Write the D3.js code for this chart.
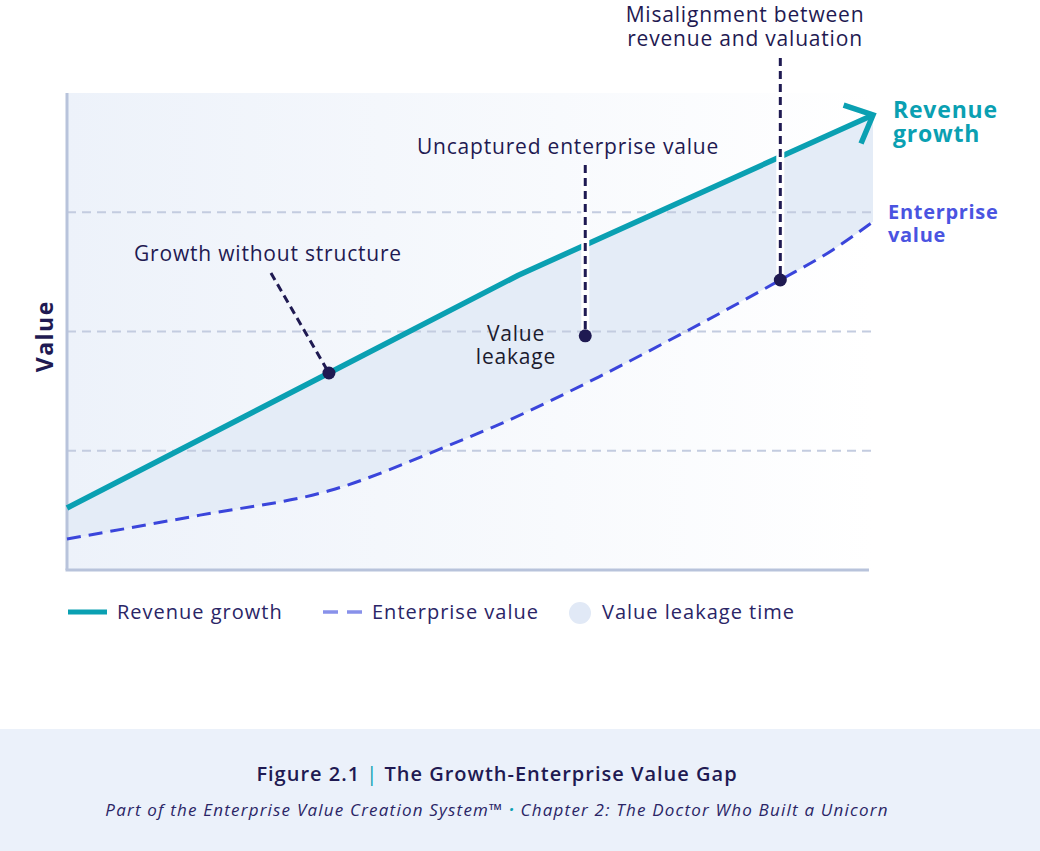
<!DOCTYPE html>
<html>
<head>
<meta charset="utf-8">
<script src="https://cdn.jsdelivr.net/npm/d3@7"></script>
<style>
  body { margin: 0; background: #fff; }
  svg { display: block; font-family: "Open Sans", "Noto Sans", sans-serif; }
</style>
</head>
<body>
<svg width="1040" height="851"></svg>
<script>
// data (time on x 0..10, value on y 0..100)
const revTime = [0, 3.25, 5.6, 10]
const revValue = [13, 41.3, 61.8, 95.4]

const evTime = [0, 1.65, 3.25, 4.75, 5.4, 6.6, 7.6, 8.85, 9.5, 10]
const evValue = [6.5, 11.5, 16.6, 26.2, 30.8, 40.5, 49.3, 60.8, 67.1, 73]

const gridValues = [25, 50, 75]

const legendLabels = ["Revenue growth", "Enterprise value", "Value leakage time"]

// annotation anchors: [time, value]
const growthDot = [3.25, 41.3]
const leakDot = [6.43, 49.1]
const misalignDot = [8.85, 60.8]

const svg = d3.select("svg")
const width = +svg.attr("width")
const height = +svg.attr("height")

const teal = "#0aa0b2"
const evBlue = "#3a45db"
const navy = "#1f1a52"

const x = d3.scaleLinear().domain([0, 10]).range([67, 873])
const y = d3.scaleLinear().domain([0, 100]).range([570, 93])

const revenue = revTime.map((t, i) => ({ t, v: revValue[i] }))
const ev = evTime.map((t, i) => ({ t, v: evValue[i] }))

const defs = svg.append("defs")

const bgGrad = defs.append("linearGradient").attr("id", "bgGrad")
bgGrad.append("stop").attr("offset", "0%").attr("stop-color", "#edf2fa")
bgGrad.append("stop").attr("offset", "100%").attr("stop-color", "#ffffff")

// plot background
svg.append("rect")
  .attr("x", x(0)).attr("y", y(100))
  .attr("width", x(10) - x(0)).attr("height", y(0) - y(100))
  .attr("fill", "url(#bgGrad)")

// clip to the region above the enterprise value curve
defs.append("clipPath").attr("id", "aboveEv")
  .append("path")
  .attr("d", d3.area()
    .x(d => x(d.t)).y0(y(100)).y1(d => y(d.v))
    .curve(d3.curveMonotoneX)(ev))

// value leakage fill: below revenue, above EV
svg.append("path")
  .attr("d", d3.area()
    .x(d => x(d.t)).y0(y(0)).y1(d => y(d.v))(revenue))
  .attr("clip-path", "url(#aboveEv)")
  .attr("fill", "#e4ecf7")

// gridlines
svg.selectAll("line.grid")
  .data(gridValues)
  .join("line")
  .attr("class", "grid")
  .attr("x1", x(0)).attr("x2", x(10))
  .attr("y1", d => y(d)).attr("y2", d => y(d))
  .attr("stroke", "#c3cce0")
  .attr("stroke-width", 2)
  .attr("stroke-dasharray", "9 6")

// axes
svg.append("line")
  .attr("x1", x(0)).attr("x2", x(0))
  .attr("y1", y(100)).attr("y2", y(0))
  .attr("stroke", "#b8c3db").attr("stroke-width", 3)
svg.append("line")
  .attr("x1", x(0) - 1.5).attr("x2", x(9.95))
  .attr("y1", y(0)).attr("y2", y(0))
  .attr("stroke", "#b8c3db").attr("stroke-width", 3)

svg.append("text")
  .text("Value")
  .attr("transform", `translate(53,${y(49)}) rotate(-90)`)
  .attr("text-anchor", "middle")
  .attr("fill", navy)
  .attr("font-size", 23)
  .attr("font-weight", 700)
  .attr("letter-spacing", 1.5)

// enterprise value line
svg.append("path")
  .attr("d", d3.line().x(d => x(d.t)).y(d => y(d.v)).curve(d3.curveMonotoneX)(ev))
  .attr("fill", "none")
  .attr("stroke", evBlue)
  .attr("stroke-width", 3)
  .attr("stroke-dasharray", "14 8")

// revenue line
svg.append("path")
  .attr("d", d3.line().x(d => x(d.t)).y(d => y(d.v))(revenue))
  .attr("fill", "none")
  .attr("stroke", teal)
  .attr("stroke-width", 5.5)
  .attr("stroke-linejoin", "round")

// arrow head at the end of revenue
const last = revenue[revenue.length - 1]
const prev = revenue[revenue.length - 2]
const tipX = x(last.t), tipY = y(last.v)
const ang = Math.atan2(tipY - y(prev.v), tipX - x(prev.t))
const armLen = 31
const spread = 0.75
svg.append("path")
  .attr("d", `M ${tipX - armLen * Math.cos(ang - spread)} ${tipY - armLen * Math.sin(ang - spread)}
              L ${tipX} ${tipY}
              L ${tipX - armLen * Math.cos(ang + spread)} ${tipY - armLen * Math.sin(ang + spread)}`)
  .attr("fill", "none")
  .attr("stroke", teal)
  .attr("stroke-width", 5.5)
  .attr("stroke-linecap", "butt")
  .attr("stroke-linejoin", "miter")

// annotations
function leader(x1, y1, x2, y2, halo) {
  if (halo) {
    svg.append("line")
      .attr("x1", x1).attr("y1", y1).attr("x2", x2).attr("y2", y2)
      .attr("stroke", "#fff").attr("stroke-width", 8)
  }
  svg.append("line")
    .attr("x1", x1).attr("y1", y1).attr("x2", x2).attr("y2", y2)
    .attr("stroke", navy).attr("stroke-width", 3)
    .attr("stroke-dasharray", "8 5")
}

function dot(cx, cy) {
  svg.append("circle")
    .attr("cx", cx).attr("cy", cy).attr("r", 6.5)
    .attr("fill", navy)
}

function label(lines, cx, cy, opts = {}) {
  lines.forEach((l, i) => {
    svg.append("text")
      .attr("x", cx).attr("y", cy + i * (opts.lh || 24))
      .attr("text-anchor", opts.anchor || "middle")
      .attr("fill", opts.color || navy)
      .attr("font-size", opts.size || 21)
      .attr("font-weight", opts.weight || 500)
      .attr("letter-spacing", opts.ls == null ? 0.8 : opts.ls)
      .text(l)
  })
}

// growth without structure
leader(x(growthDot[0]) - 58, 273, x(growthDot[0]), y(growthDot[1]), false)
dot(x(growthDot[0]), y(growthDot[1]))
label(["Growth without structure"], 268, 261)

// uncaptured enterprise value
leader(x(leakDot[0]), 165, x(leakDot[0]), y(leakDot[1]), true)
dot(x(leakDot[0]), y(leakDot[1]))
label(["Uncaptured enterprise value"], 568, 154)
label(["Value", "leakage"], 516, 341, { color: "#1b1a2e", lh: 23 })

// misalignment
leader(x(misalignDot[0]), 58, x(misalignDot[0]), y(misalignDot[1]), true)
dot(x(misalignDot[0]), y(misalignDot[1]))
label(["Misalignment between", "revenue and valuation"], 745, 22, { lh: 24 })

// end labels
label(["Revenue", "growth"], 893, 118, { anchor: "start", color: teal, size: 23, weight: 700, lh: 24, ls: 0.8 })
label(["Enterprise", "value"], 888, 219, { anchor: "start", color: "#4a54e1", size: 20, weight: 700, lh: 23, ls: 0.7 })

// legend
const legend = svg.append("g").attr("transform", "translate(0,612)")
legend.append("line")
  .attr("x1", 68).attr("x2", 107).attr("y1", 0).attr("y2", 0)
  .attr("stroke", teal).attr("stroke-width", 5)
legend.append("line")
  .attr("x1", 323).attr("x2", 364).attr("y1", 0).attr("y2", 0)
  .attr("stroke", "#8891ea").attr("stroke-width", 3.5)
  .attr("stroke-dasharray", "15 9")
legend.append("circle")
  .attr("cx", 580).attr("cy", 1).attr("r", 11)
  .attr("fill", "#e1e9f6")
const legendX = [117, 372, 602]
legend.selectAll("text")
  .data(legendLabels)
  .join("text")
  .attr("x", (d, i) => legendX[i])
  .attr("y", 7)
  .attr("fill", "#2a2566")
  .attr("font-size", 20)
  .attr("font-weight", 500)
  .attr("letter-spacing", 1)
  .text(d => d)

// caption band
svg.append("rect")
  .attr("x", 0).attr("y", 729)
  .attr("width", width).attr("height", height - 729)
  .attr("fill", "#ebf1fa")

const title = svg.append("text")
  .attr("x", 497).attr("y", 781)
  .attr("text-anchor", "middle")
  .attr("fill", navy)
  .attr("font-size", 20)
  .attr("font-weight", 600)
  .attr("letter-spacing", 1)
title.append("tspan").text("Figure 2.1 ")
title.append("tspan").attr("fill", teal).attr("font-weight", 400).text("|")
title.append("tspan").text(" The Growth-Enterprise Value Gap")

const sub = svg.append("text")
  .attr("x", 497).attr("y", 816)
  .attr("text-anchor", "middle")
  .attr("fill", "#2a2566")
  .attr("font-size", 17)
  .attr("font-style", "italic")
  .attr("letter-spacing", 1.2)
sub.append("tspan").text("Part of the Enterprise Value Creation System™ ")
sub.append("tspan").attr("fill", teal).attr("font-weight", 700).text(" · ")
sub.append("tspan").text(" Chapter 2: The Doctor Who Built a Unicorn")
</script>
</body>
</html>
